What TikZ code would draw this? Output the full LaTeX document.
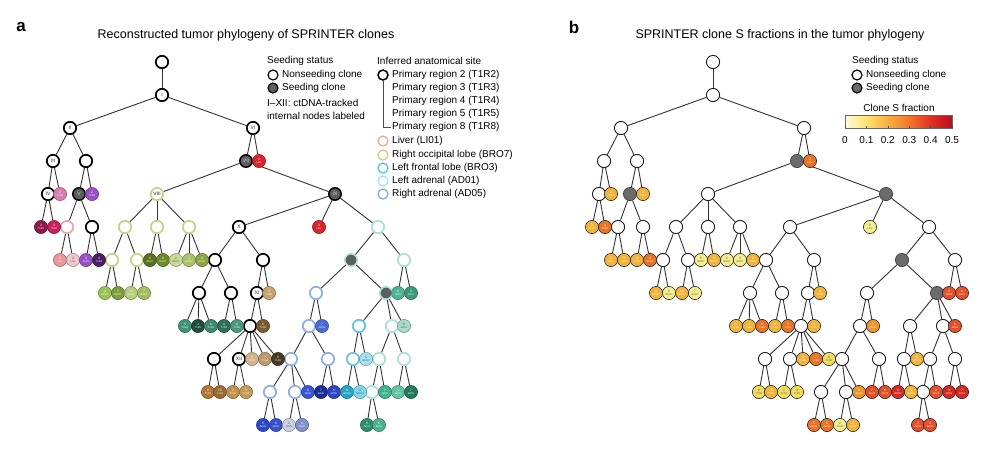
\documentclass[tikz,border=0pt]{standalone}
\usepackage{fontspec}
\setmainfont{Liberation Sans}
\pgfdeclarelayer{bg}
\pgfsetlayers{bg,main}
% panel a internal borders
\definecolor{pinkB}{HTML}{F0A6A0}
\definecolor{greenB}{HTML}{C4D486}
\definecolor{cyanB}{HTML}{5CC6DE}
\definecolor{tealL}{HTML}{A9E2D4}
\definecolor{blueL}{HTML}{90AEE0}
\definecolor{seedA}{HTML}{5E5E5E}
\definecolor{seedB}{HTML}{6B6B6B}
% panel a leaf colours
\definecolor{cRedA}{HTML}{D8252E}
\definecolor{pinkM}{HTML}{D47FB0}
\definecolor{purp}{HTML}{9B4FC4}
\definecolor{purpD}{HTML}{4B1F66}
\definecolor{mag1}{HTML}{8E1A4E}
\definecolor{mag2}{HTML}{C8215E}
\definecolor{salm}{HTML}{E8979A}
\definecolor{pinkLL}{HTML}{F2C6CC}
\definecolor{olD}{HTML}{58701F}
\definecolor{olM}{HTML}{6C8A2A}
\definecolor{grL}{HTML}{C9DA96}
\definecolor{grM}{HTML}{A9C46A}
\definecolor{grO}{HTML}{8AA545}
\definecolor{gA}{HTML}{9BC255}
\definecolor{gB}{HTML}{7E9E3A}
\definecolor{gC}{HTML}{B5CF7A}
\definecolor{gD}{HTML}{A3BE5E}
\definecolor{tanA}{HTML}{C9A272}
\definecolor{tgA}{HTML}{4DB595}
\definecolor{tgB}{HTML}{3A9A7A}
\definecolor{tl1}{HTML}{3E9676}
\definecolor{tlD}{HTML}{1E4D3C}
\definecolor{tl2}{HTML}{3C8C6C}
\definecolor{tl3}{HTML}{2F6F55}
\definecolor{tl4}{HTML}{4A9A7A}
\definecolor{brA}{HTML}{7A5A2E}
\definecolor{blA}{HTML}{4A6BD6}
\definecolor{mintL}{HTML}{A8DCC8}
\definecolor{tan1}{HTML}{D4B48A}
\definecolor{tan2}{HTML}{BC9A6E}
\definecolor{brD}{HTML}{4A3A26}
\definecolor{cyL}{HTML}{A6E2F2}
\definecolor{bn1}{HTML}{B07838}
\definecolor{bn2}{HTML}{9A6A30}
\definecolor{bn3}{HTML}{C09050}
\definecolor{bn4}{HTML}{C49A58}
\definecolor{blB}{HTML}{3A55D6}
\definecolor{blD}{HTML}{1C2E95}
\definecolor{blC}{HTML}{2D45C4}
\definecolor{cyA}{HTML}{2AA3C3}
\definecolor{cyB}{HTML}{7FD8EE}
\definecolor{tgC}{HTML}{3FB48F}
\definecolor{tgE}{HTML}{62C3A2}
\definecolor{tgD}{HTML}{217A5E}
\definecolor{blE}{HTML}{2B49CA}
\definecolor{blF}{HTML}{3854CC}
\definecolor{grayL}{HTML}{C9D1E3}
\definecolor{bgray}{HTML}{8291CB}
\definecolor{tgF}{HTML}{2E8E6E}
\definecolor{tgG}{HTML}{4EB08F}
% panel b colours
\definecolor{cLY}{HTML}{F4EE8E}
\definecolor{cY}{HTML}{F2DC5E}
\definecolor{cG}{HTML}{F0B43A}
\definecolor{cO}{HTML}{EE9530}
\definecolor{cDO}{HTML}{EA7426}
\definecolor{cRO}{HTML}{E4502A}
\definecolor{cR}{HTML}{D52A22}
\definecolor{cDR}{HTML}{C2141E}
\definecolor{dtxt}{HTML}{555555}
% legend
\definecolor{lgLiver}{HTML}{F2A59C}
\definecolor{lgBRO7}{HTML}{C8D17E}
\definecolor{lgBRO3}{HTML}{4FBFD8}
\definecolor{lgAD01}{HTML}{A6E3D6}
\definecolor{lgAD05}{HTML}{87A8D9}
% colour bar
\definecolor{cb0}{HTML}{FFFCE0}
\definecolor{cb1}{HTML}{FDE46E}
\definecolor{cb2}{HTML}{F9B03E}
\definecolor{cb3}{HTML}{F2762A}
\definecolor{cb4}{HTML}{DF3220}
\definecolor{cb5}{HTML}{BA0A22}
\pgfdeclarehorizontalshading{ylorrd}{100bp}{color(0bp)=(cb0); color(25bp)=(cb0); color(35bp)=(cb1); color(45bp)=(cb2); color(55bp)=(cb3); color(65bp)=(cb4); color(75bp)=(cb5); color(100bp)=(cb5)}
\newcommand\rfont{\fontsize{5}{5}\selectfont}
\newcommand\lfont{\fontsize{3.2}{3.2}\selectfont}
\newcommand\cfont{\fontsize{2.5}{2.8}\selectfont}
\newcommand\lgfont{\fontsize{10}{12}\selectfont}
\tikzset{
  edge/.style={draw=black!80, line width=0.9pt},
  aW/.style={circle, draw=#1, fill=white, line width=1.7pt, minimum size=12.4pt, inner sep=0pt, text=black!85, font=\rfont},
  aS/.style={circle, draw=#1, fill=seedA, line width=1.5pt, minimum size=12.4pt, inner sep=0pt, text=white!85!black, font=\rfont},
  aL/.style={circle, draw=#1!65!black, fill=#1, line width=0.5pt, minimum size=13.2pt, inner sep=0pt, align=center, font=\lfont},
  bW/.style={circle, draw=black!90, fill=white, line width=0.9pt, minimum size=13.2pt, inner sep=0pt},
  bS/.style={circle, draw=black!75, fill=seedB, line width=0.7pt, minimum size=13.2pt, inner sep=0pt},
  bL/.style={circle, draw=black!85, fill=#1, line width=0.6pt, minimum size=13.2pt, inner sep=0pt, align=center, font=\lfont},
  lgtxt/.style={anchor=west, inner sep=0pt, font=\lgfont},
  lgc/.style={circle, draw=#1, fill=white, line width=1.2pt, minimum size=10pt, inner sep=0pt},
}
\begin{document}
\begin{tikzpicture}[x=1pt,y=-1pt]
\useasboundingbox (0,0) rectangle (1000,448);
% titles
\node[font=\fontsize{17}{17}\selectfont\bfseries] (pa) at (21,27) {a};
\node[font=\fontsize{17}{17}\selectfont\bfseries] (pb) at (574,27) {b};
\node[font=\fontsize{12.5}{14}\selectfont] (ta) at (246,35) {Reconstructed tumor phylogeny of SPRINTER clones};
\node[font=\fontsize{12.5}{14}\selectfont] (tb) at (780,35) {SPRINTER clone S fractions in the tumor phylogeny};

% internal white nodes
\foreach \id/\x/\lv/\bc/\lab in {
 0/162/0/black/{}, I/162/1/black/I, II/70/2/black/II, VI/253/2/black/VI,
 III/53/3/black/III, w3b/86/3/black/{}, IV/48/4/black/IV, VIII/157/4/greenB/VIII,
 w5c/67/5/pinkB/{}, w5d/92/5/black/{}, w5e/125/5/greenB/{}, w5f/157/5/greenB/{}, w5g/189/5/greenB/{},
 X/239/5/black/X, w5t/378/5/tealL/{}, w6e/112/6/greenB/{}, w6f/137/6/greenB/{},
 w6l/215/6/black/{}, w6m/263/6/black/{}, w6n/404/6/tealL/{},
 w7e/199/7/black/{}, w7f/231/7/black/{}, XI/257/7/black/XI, w7h/316/7/blueL/{},
 w8f/250/8/black/{}, w8h/309/8/blueL/{}, w8j/359/8/cyanB/{}, w8k/392/8/tealL/{},
 w9a/214/9/black/{}, XII/239/9/black/XII, w9e/291/9/blueL/{}, w9f/328/9/blueL/{},
 w9g/353/9/cyanB/{}, w9i/379/9/tealL/{}, w9j/404/9/tealL/{},
 w10e/270/10/blueL/{}, w10f/295/10/blueL/{}, w10l/372/10/tealL/{}}
{
  \node[aW=\bc] (a\id) at (\x,{62+33*\lv}) {\lab};
  \node[bW] (b\id) at ({\x+551},{62+33*\lv}) {};
}
% seeding nodes
\foreach \id/\x/\lv/\bc/\lab in {V/79/4/black/V, VII/246/3/black/VII, IX/335/4/black/IX, s6s/351/6/tealL/{}, s7s/386/7/tealL/{}}
{
  \node[aS=\bc] (a\id) at (\x,{62+33*\lv}) {\lab};
  \node[bS] (b\id) at ({\x+551},{62+33*\lv}) {};
}
% leaves
\foreach \id/\x/\lv/\ca/\ta/\cb/\tb/\nm/\cd in {
 l3r/259/3/cRedA/white/cDO/white/2/LI01,
 l4p/60/4/pinkM/white/cG/white/2/T1R2,
 l4u/92/4/purp/white/cG/white/2/T1R3,
 l5a/41/5/mag1/white/cG/white/3/T1R2,
 l5b/54/5/mag2/white/cDO/white/4/T1R2,
 l5r/319/5/cRedA/white/cLY/dtxt/3/LI01,
 l6a/60/6/salm/white/cG/white/2/LI01,
 l6b/73/6/pinkLL/dtxt/cG/white/3/LI01,
 l6c/86/6/purp/white/cG/white/3/T1R3,
 l6d/99/6/purpD/white/cDO/white/4/T1R3,
 l6g/150/6/olD/white/cLY/dtxt/6/BRO7,
 l6h/163/6/olM/white/cG/white/8/BRO7,
 l6i/176/6/grL/dtxt/cLY/dtxt/2/BRO7,
 l6j/189/6/grM/white/cLY/dtxt/3/BRO7,
 l6k/202/6/grO/white/cG/white/9/BRO7,
 l7a/105/7/gA/white/cG/white/4/BRO7,
 l7b/118/7/gB/white/cLY/dtxt/5/BRO7,
 l7c/131/7/gC/white/cG/white/10/BRO7,
 l7d/144/7/gD/white/cLY/dtxt/7/BRO7,
 l7g/269/7/tanA/white/cG/white/4/T1R8,
 l7i/398/7/tgA/white/cRO/white/8/AD01,
 l7j/411/7/tgB/white/cRO/white/9/AD01,
 l8a/185/8/tl1/white/cG/white/5/T1R5,
 l8b/198/8/tlD/white/cG/white/3/T1R5,
 l8c/211/8/tl2/white/cDO/white/6/T1R5,
 l8d/224/8/tl3/white/cG/white/4/T1R5,
 l8e/237/8/tl4/white/cDO/white/6/T1R5,
 l8g/263/8/brA/white/cG/white/6/T1R8,
 l8i/322/8/blA/white/cO/white/7/AD05,
 l8l/404/8/mintL/dtxt/cRO/white/6/AD01,
 l9b/252/9/tan1/white/cG/white/5/T1R8,
 l9c/265/9/tan2/white/cDO/white/7/T1R8,
 l9d/278/9/brD/white/cY/dtxt/8/T1R8,
 l9h/366/9/cyL/dtxt/cG/white/5/BRO3,
 l10a/208/10/bn1/white/cY/dtxt/8/T1R4,
 l10b/220/10/bn2/white/cG/white/10/T1R4,
 l10c/233/10/bn3/white/cY/dtxt/2/T1R4,
 l10d/246/10/bn4/white/cY/dtxt/3/T1R4,
 l10g/308/10/blB/white/cO/white/8/AD05,
 l10h/321/10/blD/white/cRO/white/7/AD05,
 l10i/334/10/blC/white/cRO/white/8/AD05,
 l10j/347/10/cyA/white/cR/white/6/BRO3,
 l10k/360/10/cyB/dtxt/cG/white/4/BRO3,
 l10m/385/10/tgC/white/cRO/white/2/AD01,
 l10n/398/10/tgE/white/cR/white/3/AD01,
 l10o/411/10/tgD/white/cR/white/7/AD01,
 l11a/263/11/blE/white/cDO/white/5/AD05,
 l11b/276/11/blF/white/cDO/white/6/AD05,
 l11c/289/11/grayL/dtxt/cLY/dtxt/2/AD05,
 l11d/302/11/bgray/white/cG/white/4/AD05,
 l11e/367/11/tgF/white/cRO/white/5/AD01,
 l11f/379/11/tgG/white/cRO/white/6/AD01}
{
  \node[aL=\ca, text=\ta] (a\id) at (\x,{62+33*\lv}) {\nm\\[-0.6pt]{\cfont\cd}};
  \node[bL=\cb, text=\tb] (b\id) at ({\x+551},{62+33*\lv}) {\nm\\[-0.6pt]{\cfont\cd}};
}
% edges
\begin{pgfonlayer}{bg}
\foreach \ch/\pa in {
 I/0, II/I, VI/I, III/II, w3b/II, VII/VI, l3r/VI, IV/III, l4p/III, V/w3b, l4u/w3b,
 VIII/VII, IX/VII, l5a/IV, l5b/IV, w5c/V, w5d/V, w5e/VIII, w5f/VIII, w5g/VIII,
 X/IX, l5r/IX, w5t/IX, l6a/w5c, l6b/w5c, l6c/w5d, l6d/w5d, w6e/w5e, w6f/w5e,
 l6g/w5f, l6h/w5f, l6i/w5g, l6j/w5g, l6k/w5g, w6l/X, w6m/X, s6s/w5t, w6n/w5t,
 l7a/w6e, l7b/w6e, l7c/w6f, l7d/w6f, w7e/w6l, w7f/w6l, XI/w6m, l7g/w6m,
 w7h/s6s, s7s/s6s, l7i/w6n, l7j/w6n, l8a/w7e, l8b/w7e, l8c/w7e, l8d/w7f, l8e/w7f,
 w8f/XI, l8g/XI, w8h/w7h, l8i/w7h, w8j/s7s, w8k/s7s, l8l/s7s,
 w9a/w8f, XII/w8f, l9b/w8f, l9c/w8f, l9d/w8f, w9e/w8h, w9f/w8h, w9g/w8j, l9h/w8j,
 w9i/w8k, w9j/w8k, l10a/w9a, l10b/w9a, l10c/XII, l10d/XII, w10e/w9e, w10f/w9e,
 l10g/w9e, l10h/w9f, l10i/w9f, l10j/w9g, l10k/w9g, w10l/w9i, l10m/w9i, l10n/w9j,
 l10o/w9j, l11a/w10e, l11b/w10e, l11c/w10f, l11d/w10f, l11e/w10l, l11f/w10l}
{
  \draw[edge] (a\pa) -- (a\ch);
  \draw[edge] (b\pa) -- (b\ch);
}
\end{pgfonlayer}

% legend panel a
\node[lgtxt] (lgSS) at (267,61) {Seeding status};
\node[lgc=black] (lgN) at (273,75) {};
\node[lgtxt] (lgNt) at (282,75) {Nonseeding clone};
\node[lgc=black, fill=seedA] (lgS) at (273,88) {};
\node[lgtxt] (lgSt) at (282,88) {Seeding clone};
\node[lgtxt] (lgI1) at (267,103) {I--XII: ctDNA-tracked};
\node[lgtxt] (lgI2) at (267,116) {internal nodes labeled};
\node[lgtxt] (lgIA) at (377,61) {Inferred anatomical site};
\node[lgc=black, line width=1.5pt] (lgP) at (383,75) {};
\node[lgtxt] (lgR2) at (392,75) {Primary region 2 (T1R2)};
\node[lgtxt] (lgR3) at (392,88) {Primary region 3 (T1R3)};
\node[lgtxt] (lgR4) at (392,101) {Primary region 4 (T1R4)};
\node[lgtxt] (lgR5) at (392,114) {Primary region 5 (T1R5)};
\node[lgtxt] (lgR8) at (392,127) {Primary region 8 (T1R8)};
\draw[black!70, line width=0.6pt] (lgP.south) |- ([xshift=-1pt]lgR8.west);
\node[lgc=lgLiver] (lgL) at (383,141) {};
\node[lgtxt] (lgLt) at (392,141) {Liver (LI01)};
\node[lgc=lgBRO7] (lgB7) at (383,155) {};
\node[lgtxt] (lgB7t) at (392,155) {Right occipital lobe (BRO7)};
\node[lgc=lgBRO3] (lgB3) at (383,168) {};
\node[lgtxt] (lgB3t) at (392,168) {Left frontal lobe (BRO3)};
\node[lgc=lgAD01] (lgA1) at (383,181) {};
\node[lgtxt] (lgA1t) at (392,181) {Left adrenal (AD01)};
\node[lgc=lgAD05] (lgA5) at (383,194) {};
\node[lgtxt] (lgA5t) at (392,194) {Right adrenal (AD05)};

% legend panel b
\node[lgtxt] (lbSS) at (852,61) {Seeding status};
\node[lgc=black] (lbN) at (857,75) {};
\node[lgtxt] (lbNt) at (866,75) {Nonseeding clone};
\node[lgc=black, fill=seedB] (lbS) at (857,88) {};
\node[lgtxt] (lbSt) at (866,88) {Seeding clone};
\node[font=\lgfont, inner sep=0pt] (lbCS) at (899,108) {Clone S fraction};
\shade[shading=ylorrd] (845,115) rectangle (952,128);
\draw[black!60, line width=0.4pt] (845,115) rectangle (952,128);
\foreach \v [count=\i from 0] in {0,0.1,0.2,0.3,0.4,0.5}{
  \draw[black!70, line width=0.5pt] ({845+21.4*\i},128) -- ({845+21.4*\i},125.5);
  \node[font=\lgfont, inner sep=0pt] (tk\i) at ({845+21.4*\i},140) {\v};
}
\end{tikzpicture}
\end{document}
